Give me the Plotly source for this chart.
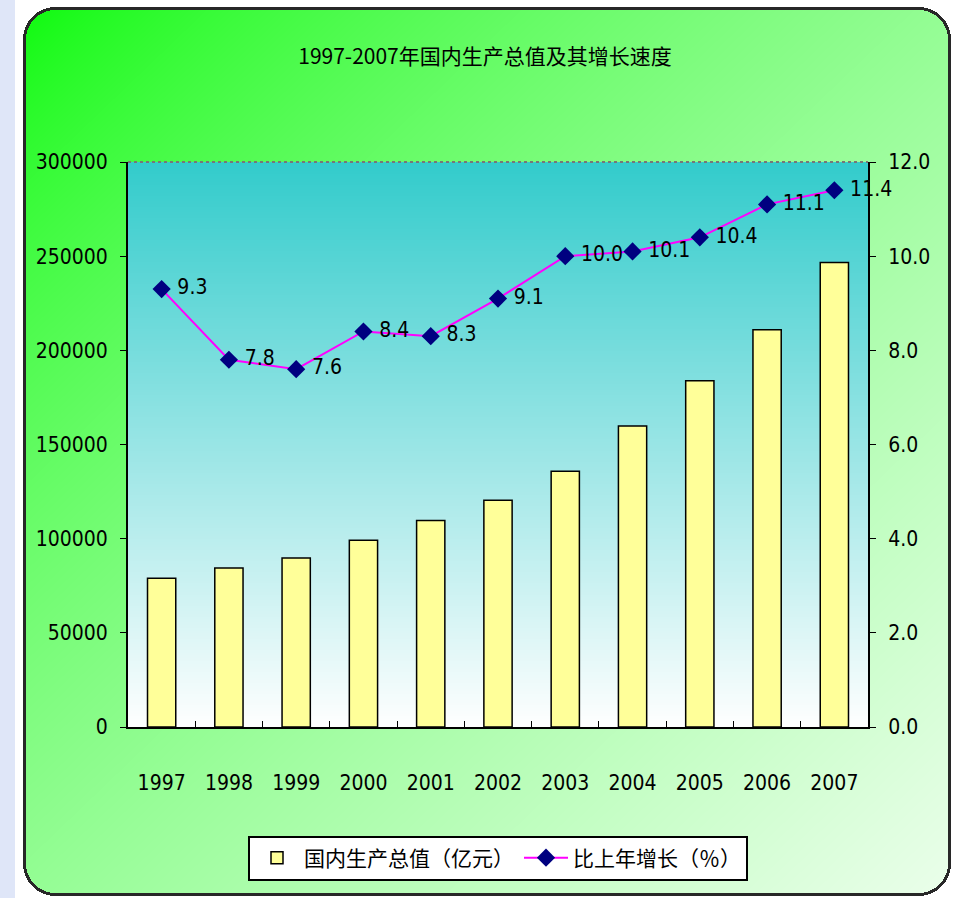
import base64
import struct
import zlib

import numpy as np
import plotly.graph_objects as go

# Data

years = ["1997", "1998", "1999", "2000", "2001", "2002", "2003", "2004", "2005", "2006", "2007"]
gdp = [78973, 84402, 89677, 99215, 109655, 120333, 135823, 159878, 183868, 210871, 246619]
growth = [9.3, 7.8, 7.6, 8.4, 8.3, 9.1, 10.0, 10.1, 10.4, 11.1, 11.4]

TITLE = "1997-2007年国内生产总值及其增长速度"
BAR_NAME = "国内生产总值（亿元）"
LINE_NAME = "比上年增长（％）"

# Layout (pixels)

W, H = 955, 898
PLOT_L, PLOT_R, PLOT_T, PLOT_B = 128, 868, 162, 727
FONT = "DejaVu Sans Condensed, Liberation Sans Narrow, Arial Narrow, Noto Sans CJK SC, sans-serif"
CJK = "Noto Sans CJK SC"


def png_data_uri(arr: np.ndarray) -> str:
    h, w, _ = arr.shape
    raw = np.concatenate([np.zeros((h, 1), dtype=np.uint8), arr.reshape(h, w * 3)], axis=1)
    data = zlib.compress(raw.tobytes(), 9)

    def chunk(tag, payload):
        c = struct.pack(">I", len(payload)) + tag + payload
        return c + struct.pack(">I", zlib.crc32(tag + payload) & 0xFFFFFFFF)

    png = b"\x89PNG\r\n\x1a\n"
    png += chunk(b"IHDR", struct.pack(">IIBBBBB", w, h, 8, 2, 0, 0, 0))
    png += chunk(b"IDAT", data)
    png += chunk(b"IEND", b"")
    return "data:image/png;base64," + base64.b64encode(png).decode()


def background() -> str:
    yy, xx = np.mgrid[0:H, 0:W].astype(float)
    img = np.full((H, W, 3), 255.0)
    img[:, :15] = (223, 230, 248)

    # rounded green panel
    x0, y0, x1, y1, r = 23, 7, 950, 895, 32
    cx, cy = (x0 + x1) / 2, (y0 + y1) / 2
    hx, hy = (x1 - x0) / 2, (y1 - y0) / 2
    qx = np.abs(xx - cx) - (hx - r)
    qy = np.abs(yy - cy) - (hy - r)
    sd = np.hypot(np.maximum(qx, 0), np.maximum(qy, 0)) + np.minimum(np.maximum(qx, qy), 0) - r

    t = ((xx - x0) / (x1 - x0) + (yy - y0) / (y1 - y0)) / 2
    t = np.clip(t, 0, 1) ** 0.7
    start = np.array([10, 250, 10])
    end = np.array([235, 255, 235])
    panel = start + (end - start) * t[..., None]
    inside = sd < 0
    img[inside] = panel[inside]
    border = (sd < 0.5) & (sd > -2.5)
    img[border] = (40, 40, 40)

    # plot area vertical gradient
    top = np.array([51, 204, 204])
    bottom = np.array([255, 255, 255])
    ys = np.arange(PLOT_T, PLOT_B)
    f = ((ys - PLOT_T) / (PLOT_B - PLOT_T))[:, None]
    grad = top + (bottom - top) * f
    img[PLOT_T:PLOT_B, PLOT_L:PLOT_R] = grad[:, None, :]
    return png_data_uri(img.clip(0, 255).astype(np.uint8))


fig = go.Figure()

fig.add_trace(
    go.Bar(
        x=years,
        y=gdp,
        name=BAR_NAME,
        width=0.42,
        marker=dict(color="#ffff99", line=dict(color="black", width=1.5)),
    )
)

fig.add_trace(
    go.Scatter(
        x=years,
        y=growth,
        name=LINE_NAME,
        yaxis="y2",
        mode="lines+markers+text",
        text=[f" {v:.1f}" for v in growth],
        textposition="middle right",
        textfont=dict(size=21, color="black", family=FONT),
        line=dict(color="#ff00ff", width=2),
        marker=dict(symbol="diamond", size=14, color="#000080"),
        cliponaxis=False,
    )
)

pw, ph = PLOT_R - PLOT_L, PLOT_B - PLOT_T

fig.update_layout(
    width=W,
    height=H,
    margin=dict(l=PLOT_L, r=W - PLOT_R, t=PLOT_T, b=H - PLOT_B, autoexpand=False),
    paper_bgcolor="white",
    plot_bgcolor="rgba(0,0,0,0)",
    font=dict(family=FONT, color="black", size=21),
    title=dict(
        text=TITLE,
        x=485 / W,
        xanchor="center",
        y=1 - 57 / H,
        yanchor="middle",
        font=dict(family=CJK, size=21, color="black"),
    ),
    showlegend=True,
    legend=dict(
        orientation="h",
        x=0.5,
        xanchor="center",
        y=(PLOT_B - 858) / ph,
        yanchor="middle",
        bgcolor="white",
        bordercolor="black",
        borderwidth=2,
        font=dict(family=CJK, size=21, color="black"),
        itemwidth=44,
    ),
    xaxis=dict(
        type="category",
        range=[-0.5, len(years) - 0.5],
        showgrid=False,
        showline=True,
        linecolor="black",
        linewidth=2,
        ticks="inside",
        tickson="boundaries",
        ticklen=6,
        tickcolor="black",
        ticklabelstandoff=36,
        tickfont=dict(size=21),
    ),
    yaxis=dict(
        range=[0, 300000],
        dtick=50000,
        tickformat="d",
        showgrid=False,
        zeroline=False,
        showline=True,
        linecolor="black",
        linewidth=2,
        ticks="outside",
        ticklen=6,
        tickcolor="black",
        ticklabelstandoff=8,
        tickfont=dict(size=21),
    ),
    yaxis2=dict(
        range=[0, 12],
        dtick=2,
        tickformat=".1f",
        overlaying="y",
        side="right",
        showgrid=False,
        zeroline=False,
        showline=True,
        linecolor="black",
        linewidth=2,
        ticks="outside",
        ticklen=6,
        tickcolor="black",
        ticklabelstandoff=8,
        tickfont=dict(size=21),
    ),
    shapes=[
        dict(
            type="line", xref="paper", yref="paper", x0=0, x1=1, y0=1, y1=1,
            line=dict(color="#777777", width=2, dash="dot"),
        )
    ],
    images=[
        dict(
            source=background(),
            xref="paper",
            yref="paper",
            x=-PLOT_L / pw,
            y=1 + PLOT_T / ph,
            sizex=W / pw,
            sizey=H / ph,
            xanchor="left",
            yanchor="top",
            sizing="stretch",
            layer="below",
        )
    ],
)

# the page adds an 8px body margin; drop it so pixels line up with the reference
fig.write_html(
    "out.html",
    config=dict(displayModeBar=False),
    post_script="document.body.style.margin='0';",
)
